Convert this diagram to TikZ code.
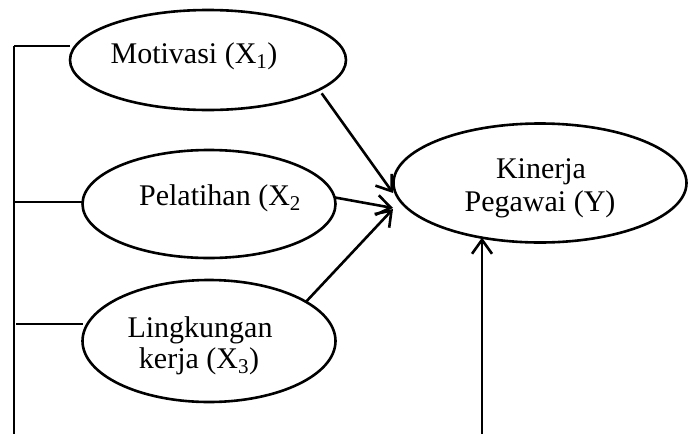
\documentclass[tikz,border=0pt]{standalone}
\usepackage{fontspec}
\setmainfont{Liberation Serif}
\usetikzlibrary{shapes.geometric,arrows.meta,calc}
\begin{document}
\begin{tikzpicture}[x=1pt,y=-1pt,
  var/.style={draw,ellipse,line width=2.6pt,inner sep=0pt,outer sep=0pt},
  lbl/.style={font=\fontsize{30}{33}\selectfont,inner sep=0pt,align=center},
  arr/.style={line width=2.6pt,-{Straight Barb[length=14pt,width=20pt,line width=2.6pt]}},
  brk/.style={line width=1.5pt}]
\useasboundingbox (0,0) rectangle (695,434);
% ellipses
\node[var,minimum width=276pt,minimum height=100pt] (mot) at (208,60) {};
\node[var,minimum width=253pt,minimum height=108pt] (pel) at (209,204) {};
\node[var,minimum width=253pt,minimum height=122pt] (lin) at (209,341) {};
\node[var,minimum width=293pt,minimum height=119pt] (kin) at (540,183) {};
% labels
\node[lbl,anchor=base] (tmot) at (194,63) {Motivasi (X\textsubscript{1})};
\node[lbl,anchor=base] (tpel) at (220,205) {Pelatihan (X\textsubscript{2}};
\node[lbl,anchor=base] (tlin1) at (200,337) {Lingkungan};
\node[lbl,anchor=base] (tlin2) at (199,368) {kerja (X\textsubscript{3})};
\node[lbl,anchor=base] (tkin1) at (541,178) {Kinerja};
\node[lbl,anchor=base] (tkin2) at (540,211) {Pegawai (Y)};
% arrow targets
\coordinate (t1) at (393,193);
\coordinate (t2) at (393,208);
\coordinate (t3) at (393,209);
\coordinate (e) at (482,434);
% arrows
\draw[arr] ($(mot.-14)+(0,5)$) -- (t1);
\draw[arr] (pel.3) -- (t2);
\draw[arr] (lin.22) -- (t3);
\draw[arr] (e) -- (e |- kin.223.5);
% bracket
\coordinate (b1) at (14,46);
\coordinate (b2) at (14,202);
\coordinate (b3) at (16,324);
\coordinate (b4) at (14,434);
\draw[brk] (b1) -- (b4);
\draw[brk] (b1) -- (b1 -| mot.west);
\draw[brk] (b2) -- (b2 -| pel.west);
\draw[brk] (b3) -- (b3 -| lin.west);
\end{tikzpicture}
\end{document}
